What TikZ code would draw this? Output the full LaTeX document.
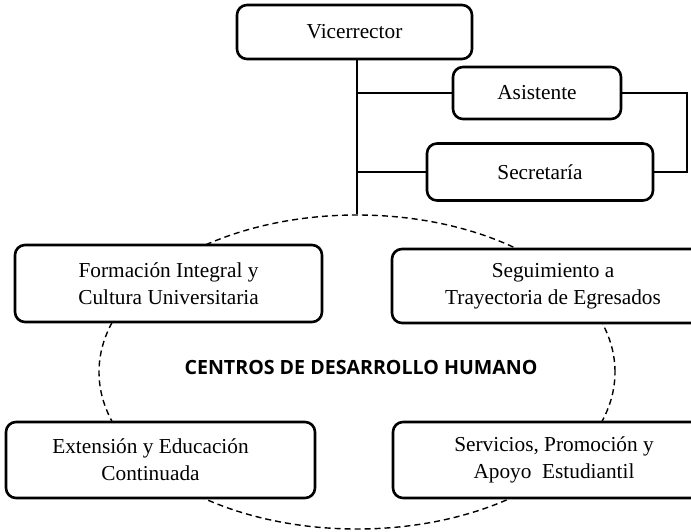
\documentclass[tikz,border=0pt]{standalone}
\usepackage{fontspec}
\setmainfont{Liberation Serif}
\newfontfamily\titlefont{Open Sans}
\usetikzlibrary{shapes.geometric}
\tikzset{
  orgbox/.style={draw, line width=2.6pt, rounded corners=10pt, fill=white, align=center,
    inner sep=0pt, font=\fontsize{21.3}{27}\selectfont},
  link/.style={line width=1.4pt},
  ring/.style={draw, ellipse, dashed, dash pattern=on 6pt off 4pt, line width=1.4pt, inner sep=0pt}
}
\begin{document}
\begin{tikzpicture}[x=1pt,y=-1pt]
\useasboundingbox (0,0) rectangle (691,531);
\clip (0,0) rectangle (691,531);
\fill[white] (0,0) rectangle (691,531);
% ring
\node[ring, minimum width=516pt, minimum height=314pt] (ell) at (357,372) {};
\node[font=\titlefont\bfseries\fontsize{19.6}{24}\selectfont] (title) at (361,367) {CENTROS DE DESARROLLO HUMANO};
% top boxes
\node[orgbox, minimum width=235pt, minimum height=54pt] (vic) at (354.5,32) {Vicerrector};
\node[orgbox, minimum width=168pt, minimum height=52pt] (asis) at (537,93) {Asistente};
\node[orgbox, minimum width=226pt, minimum height=57pt] (sec) at (540,172) {Secretaría};
\coordinate (trunk) at (357,0);
\coordinate (rb) at (687,0);
\draw[link] (vic.south -| trunk) -- (ell.north);
\draw[link] (asis.west) -- (asis.west -| trunk);
\draw[link] (sec.west) -- (sec.west -| trunk);
\draw[link] (asis.east) -- (asis.east -| rb) |- (sec.east);
% centres
\node[orgbox, minimum width=307pt, minimum height=77pt] (form) at (168.5,283.5) {Formación Integral y\\Cultura Universitaria};
\node[orgbox, minimum width=322pt, minimum height=74pt] (segu) at (553,286) {Seguimiento a\\Trayectoria de Egresados};
\node[orgbox, minimum width=309pt, minimum height=76pt] (exte) at (160.5,460) {Extensión y Educación\hspace*{20pt}\\Continuada\hspace*{20pt}};
\node[orgbox, minimum width=322pt, minimum height=76pt] (serv) at (554,460) {Servicios, Promoción y\\Apoyo\ \ Estudiantil};
\end{tikzpicture}
\end{document}
